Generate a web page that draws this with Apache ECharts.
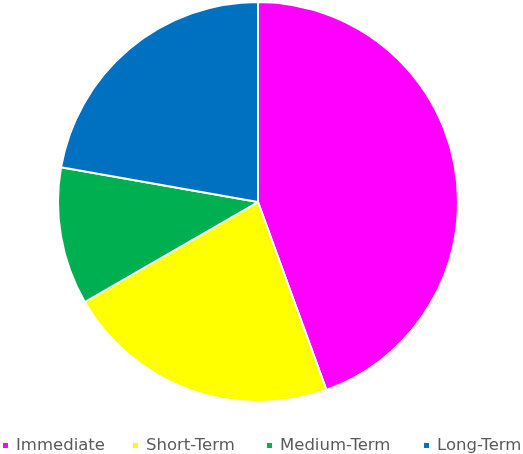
<!DOCTYPE html>
<html><head><meta charset="utf-8">
<script src="https://cdn.jsdelivr.net/npm/echarts@6/dist/echarts.min.js"></script>
<style>html,body{margin:0;padding:0;background:#fff}#c{width:523px;height:454px}</style>
</head><body><div id="c"></div>
<script>
const categories = ["Immediate", "Short-Term", "Medium-Term", "Long-Term"];
const values = [4, 2, 1, 2];
const colors = ["#FF00FF", "#FFFF00", "#00B050", "#0070C0"];
const legendLeft = [1, 131, 265, 422];

const chart = echarts.init(document.getElementById('c'), null, {renderer: 'canvas'});
chart.setOption({
  animation: false,
  color: colors,
  legend: categories.map((n, i) => ({
    data: [n],
    left: legendLeft[i],
    top: 437,
    padding: 0,
    icon: 'rect',
    itemWidth: 7,
    itemHeight: 7,
    textStyle: {color: '#595959', fontSize: 16.5, lineHeight: 16, fontFamily: 'DejaVu Sans', padding: [0, 0, 0, 2]}
  })),
  series: [{
    type: 'pie',
    center: [258, 202],
    radius: [0, 200],
    startAngle: 90,
    clockwise: true,
    label: {show: false},
    labelLine: {show: false},
    itemStyle: {borderColor: '#fff', borderWidth: 2},
    emphasis: {disabled: true},
    data: categories.map((n, i) => ({name: n, value: values[i]}))
  }]
});
</script></body></html>
